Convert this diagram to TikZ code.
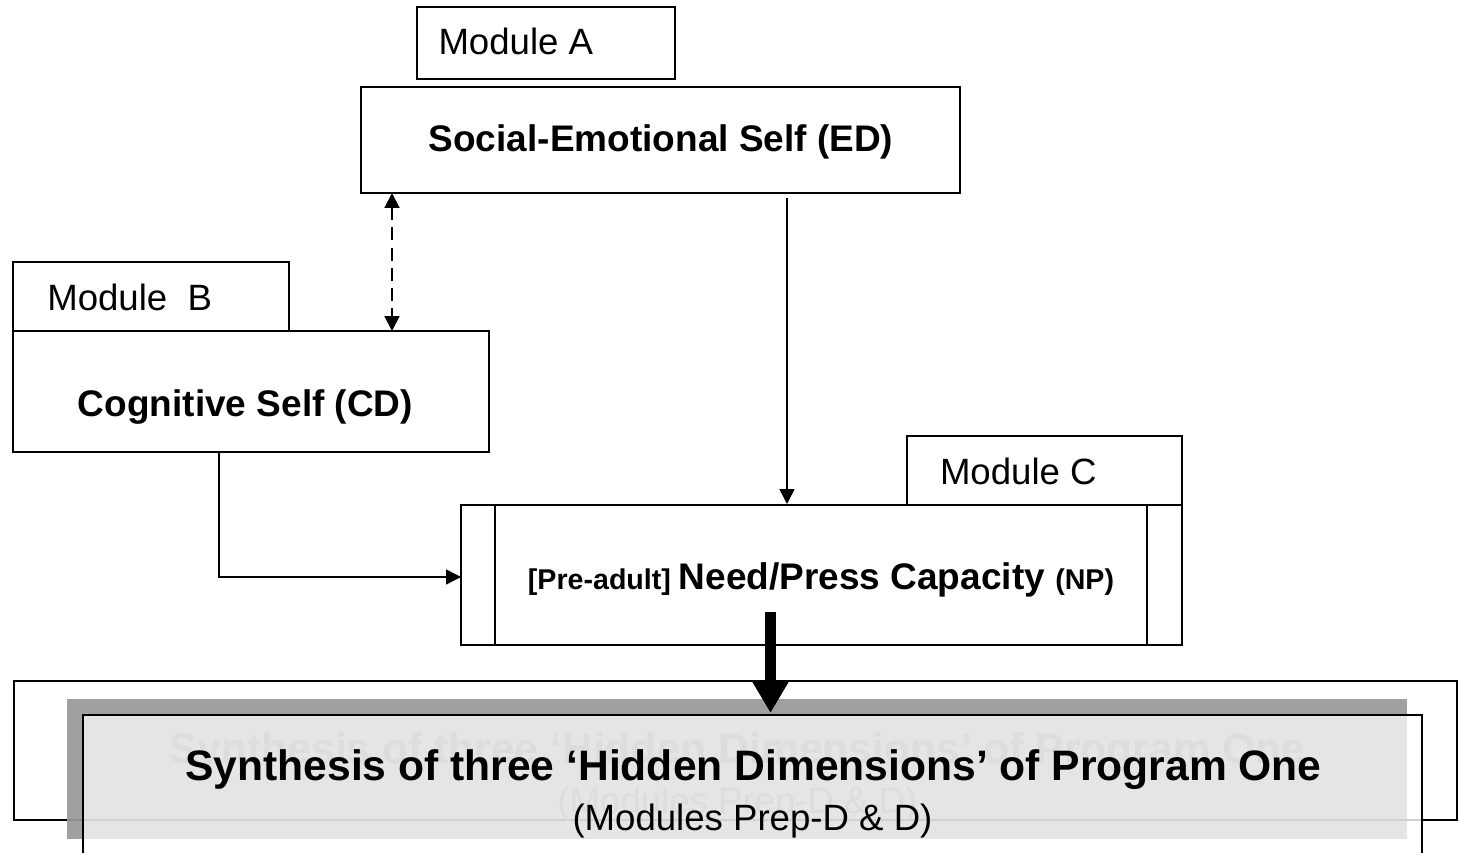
\documentclass[tikz,border=0pt]{standalone}
\usepackage{fontspec}
\setmainfont{Liberation Sans}
\usetikzlibrary{arrows.meta}

\definecolor{shadowgray}{HTML}{A0A0A0}
\definecolor{panelgray}{HTML}{E5E5E5}
\definecolor{ghostgray}{HTML}{DDDDDD}

\newcommand{\regtxt}{\fontsize{36.6}{44}\selectfont}
\newcommand{\boldtxt}{\fontsize{37}{44}\selectfont\bfseries}
\newcommand{\smalltxt}{\fontsize{28.6}{34}\selectfont\bfseries}
\newcommand{\bigtxt}{\fontsize{42.6}{50}\selectfont\bfseries}

\tikzset{
  box/.style={draw, line width=1.8pt, inner sep=0pt, outer sep=0pt},
  lbl/.style={inner sep=0pt, outer sep=0pt},
  arr/.style={line width=1.5pt, -{Triangle[length=15pt,width=15pt]}},
  dasharr/.style={line width=2pt, dash pattern=on 13pt off 7pt,
    {Triangle[length=15pt,width=15pt]}-{Triangle[length=15pt,width=15pt]}},
  bigarr/.style={line width=11pt, -{Triangle[length=32pt,width=35pt]}},
}

\begin{document}
\begin{tikzpicture}[x=1pt, y=-1pt]
\useasboundingbox (0,0) rectangle (1459,853);

% module boxes
\node[box, minimum width=258pt, minimum height=72pt]  (moda) at (546,43) {};
\node[box, minimum width=599pt, minimum height=106pt] (se)   at (660.5,140) {};
\node[box, minimum width=276pt, minimum height=69pt]  (modb) at (151,296.5) {};
\node[box, minimum width=476pt, minimum height=121pt] (cog)  at (251,391.5) {};
\node[box, minimum width=275pt, minimum height=69pt]  (modc) at (1044.5,470.5) {};
\node[box, minimum width=721pt, minimum height=140pt] (np)   at (821.5,575) {};
\draw[line width=1.8pt] (495,0 |- np.north) -- (495,0 |- np.south);
\draw[line width=1.8pt] (1147,0 |- np.north) -- (1147,0 |- np.south);

% labels
\node[lbl, anchor=base west] (ta) at (438.5,55) {\regtxt Module A};
\node[lbl, anchor=base] (tse) at (661,152) {\boldtxt Social-Emotional Self (ED)};
\node[lbl, anchor=base west] (tb) at (47.3,310) {\regtxt Module\ \ B};
\node[lbl, anchor=base] (tcog) at (245.5,416) {\boldtxt Cognitive Self (CD)};
\node[lbl, anchor=base west] (tc) at (940,484) {\regtxt Module C};
\node[lbl, anchor=base] (tnp) at (821,589)
  {\smalltxt [Pre-adult] \boldtxt Need/Press Capacity \smalltxt (NP)};

% connectors between the selves
\coordinate (dx) at (392,0);
\coordinate (ax) at (787,0);
\coordinate (cx) at (219,0);
\draw[dasharr] (se.south -| dx) -- (cog.north -| dx);
\draw[arr] ([yshift=-5pt]se.south -| ax) -- ([yshift=1pt]np.north -| ax);
\draw[arr] (cog.south -| cx) |- ([yshift=-2pt]np.west);

% synthesis panel
\node[box, minimum width=1443pt, minimum height=139pt] (outer) at (735.5,750.5) {};
\fill[shadowgray] (67,699) rectangle (1407,839);
\fill[panelgray] (83,715) rectangle (1407,839);
\draw[black!45, line width=1.8pt] (67,820) -- (83,820);
\draw[black!18, line width=1.8pt] (83,820) -- (1422,820);
\node[lbl, minimum width=1339pt, minimum height=138pt] (inner) at (752.5,784) {};

% faint offset copy of the panel text
\node[lbl, anchor=base, text=ghostgray] (gs) at (737.5,763)
  {\bigtxt Synthesis of three ‘Hidden Dimensions’ of Program One};
\node[lbl, anchor=base, text=ghostgray] (gm) at (737.5,813)
  {\regtxt (Modules Prep-D \& D)};

\draw[line width=1.8pt] (inner.south west) -- (inner.north west)
  -- (inner.north east) -- (inner.south east);

\node[lbl, anchor=base] (ts) at (753.5,780)
  {\bigtxt Synthesis of three ‘Hidden Dimensions’ of Program One};
\node[lbl, anchor=base] (tm) at (752.5,830) {\regtxt (Modules Prep-D \& D)};

% heavy arrow into the synthesis panel
\coordinate (bx) at (770.5,0);
\draw[bigarr] ([yshift=33pt]np.south -| bx) -- ([yshift=2pt]inner.north -| bx);
\end{tikzpicture}
\end{document}
